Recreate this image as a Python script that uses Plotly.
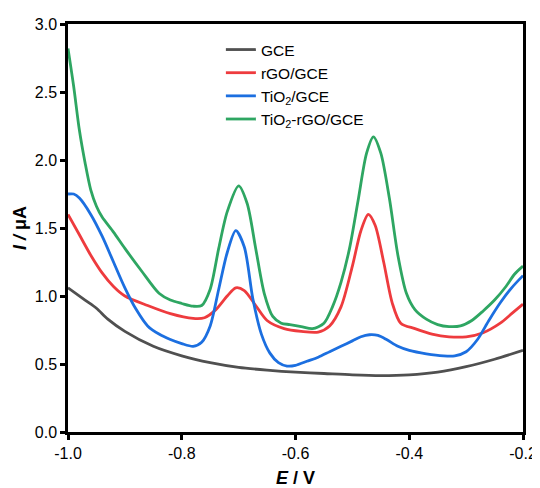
import plotly.graph_objects as go

# ---- data ----
gce_x = [-1.0, -0.97, -0.95, -0.93, -0.90, -0.85, -0.80, -0.75, -0.70, -0.65, -0.60,
         -0.55, -0.50, -0.45, -0.40, -0.35, -0.30, -0.25, -0.20]
gce_y = [1.06, 0.97, 0.91, 0.83, 0.74, 0.63, 0.56, 0.51, 0.475, 0.455, 0.44,
         0.43, 0.42, 0.415, 0.42, 0.44, 0.48, 0.535, 0.60]

rgo_x = [-1.0, -0.98, -0.96, -0.94, -0.92, -0.90, -0.86, -0.82, -0.78, -0.76, -0.74,
         -0.72, -0.705, -0.69, -0.67, -0.65, -0.62, -0.59, -0.56, -0.54, -0.52, -0.50,
         -0.485, -0.472, -0.46, -0.445, -0.43, -0.415, -0.39, -0.36, -0.33, -0.30,
         -0.27, -0.24, -0.22, -0.20]
rgo_y = [1.60, 1.45, 1.30, 1.17, 1.07, 1.00, 0.93, 0.87, 0.835, 0.84, 0.90,
         1.00, 1.06, 1.04, 0.93, 0.82, 0.76, 0.74, 0.735, 0.78, 0.92, 1.22,
         1.48, 1.60, 1.52, 1.25, 0.95, 0.80, 0.76, 0.72, 0.70, 0.70,
         0.73, 0.80, 0.87, 0.94]

tio2_x = [-1.0, -0.99, -0.98, -0.96, -0.94, -0.92, -0.90, -0.88, -0.86, -0.84, -0.82,
          -0.80, -0.78, -0.765, -0.75, -0.735, -0.72, -0.705, -0.69, -0.675, -0.66,
          -0.645, -0.63, -0.615, -0.60, -0.58, -0.56, -0.54, -0.52, -0.50, -0.485,
          -0.47, -0.455, -0.44, -0.42, -0.40, -0.37, -0.34, -0.32, -0.30, -0.28,
          -0.26, -0.24, -0.22, -0.20]
tio2_y = [1.75, 1.75, 1.72, 1.60, 1.44, 1.25, 1.06, 0.90, 0.78, 0.72, 0.68,
          0.65, 0.63, 0.66, 0.78, 1.05, 1.32, 1.48, 1.36, 0.98, 0.72,
          0.58, 0.51, 0.485, 0.49, 0.52, 0.55, 0.59, 0.63, 0.67, 0.70,
          0.715, 0.71, 0.68, 0.63, 0.60, 0.575, 0.56, 0.56, 0.59, 0.68,
          0.82, 0.95, 1.06, 1.15]

comp_x = [-1.0, -0.99, -0.98, -0.97, -0.96, -0.95, -0.94, -0.92, -0.90, -0.87, -0.84,
          -0.82, -0.80, -0.78, -0.765, -0.75, -0.735, -0.72, -0.70, -0.685, -0.67,
          -0.655, -0.64, -0.625, -0.61, -0.59, -0.57, -0.55, -0.535, -0.52, -0.505,
          -0.49, -0.475, -0.463, -0.45, -0.435, -0.42, -0.405, -0.39, -0.37, -0.35,
          -0.33, -0.31, -0.29, -0.27, -0.25, -0.23, -0.215, -0.20]
comp_y = [2.82, 2.54, 2.22, 1.98, 1.78, 1.66, 1.58, 1.47, 1.35, 1.18, 1.02,
          0.97, 0.945, 0.925, 0.93, 1.05, 1.35, 1.62, 1.81, 1.68, 1.35,
          1.02, 0.85, 0.80, 0.79, 0.775, 0.76, 0.80, 0.92, 1.10, 1.35,
          1.70, 2.05, 2.17, 2.05, 1.72, 1.30, 1.02, 0.90, 0.83, 0.79,
          0.775, 0.78, 0.82, 0.89, 0.97, 1.07, 1.16, 1.22]

names = ["GCE", "rGO/GCE", "TiO<sub>2</sub>/GCE", "TiO<sub>2</sub>-rGO/GCE"]
colors = ["#505050", "#EE3B3E", "#1C6FE0", "#2EA662"]
x_ticks = [-1.0, -0.8, -0.6, -0.4, -0.2]
x_labels = ["-1.0", "-0.8", "-0.6", "-0.4", "-0.2"]
y_ticks = [0.0, 0.5, 1.0, 1.5, 2.0, 2.5, 3.0]
y_labels = ["0.0", "0.5", "1.0", "1.5", "2.0", "2.5", "3.0"]

fig = go.Figure()
for xs, ys, nm, c in zip([gce_x, rgo_x, tio2_x, comp_x], [gce_y, rgo_y, tio2_y, comp_y], names, colors):
    fig.add_trace(go.Scatter(x=xs, y=ys, mode="lines", name=nm,
                             line=dict(color=c, width=2.8, shape="spline", smoothing=0.8)))

font = "Arial, Liberation Sans, sans-serif"
axis_common = dict(showline=True, linecolor="black", linewidth=2.5, mirror=True,
                   ticks="outside", ticklen=5, tickwidth=2.5, tickcolor="black",
                   showgrid=False, zeroline=False, automargin=False,
                   ticklabeloverflow="allow",
                   tickfont=dict(family=font, size=16, color="black"))

# page body has an 8px default margin, so the figure is 532x480
fig.update_layout(
    width=532, height=480,
    margin=dict(l=60, r=17, t=16, b=56),
    plot_bgcolor="white", paper_bgcolor="white",
    showlegend=True,
    legend=dict(x=0.336, y=0.978, xanchor="left", yanchor="top",
                font=dict(family=font, size=15.5, color="black"),
                bgcolor="rgba(0,0,0,0)", tracegroupgap=0, itemwidth=30),
    xaxis=dict(range=[-1.0, -0.2], tickvals=x_ticks, ticktext=x_labels,
               title=dict(text="<b><i>E</i> / V</b>", font=dict(family=font, size=18, color="black"), standoff=12),
               **axis_common),
    yaxis=dict(range=[0, 3.0], tickvals=y_ticks, ticktext=y_labels,
               title=dict(text="<b><i>I /</i> μA</b>", font=dict(family=font, size=18, color="black"), standoff=4),
               **axis_common),
)

fig.write_html("out.html")
